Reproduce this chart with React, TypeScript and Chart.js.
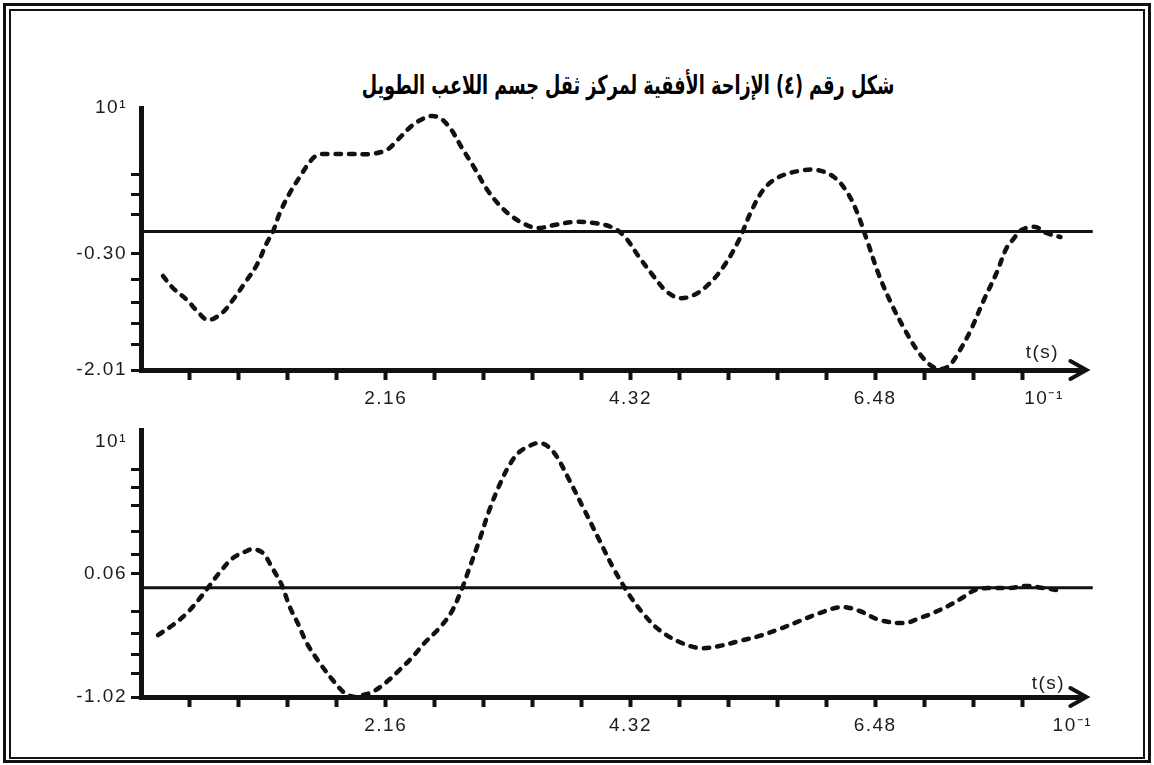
import React, { useEffect, useRef } from "react";
import { Chart, registerables } from "chart.js";

Chart.register(...registerables);

// Figure heading
const TITLE = "شكل رقم (٤) الإزاحة الأفقية لمركز ثقل جسم اللاعب الطويل";

// Upper panel: horizontal displacement vs time (time in 10^-1 s)
const TOP_T = [
  0.194, 0.282, 0.406, 0.503, 0.591, 0.714, 0.811, 0.916, 1.022, 1.11, 1.163, 1.225,
  1.313, 1.401, 1.489, 1.559, 1.665, 1.841, 2.018, 2.167, 2.264, 2.388, 2.502, 2.573,
  2.652, 2.74, 2.828, 2.943, 3.057, 3.163, 3.269, 3.383, 3.498, 3.648, 3.825, 4.001,
  4.15, 4.264, 4.396, 4.529, 4.634, 4.749, 4.881, 5.013, 5.145, 5.278, 5.383, 5.498,
  5.63, 5.807, 5.966, 6.116, 6.231, 6.319, 6.407, 6.513, 6.628, 6.743, 6.849, 6.954,
  7.042, 7.13, 7.218, 7.324, 7.439, 7.551, 7.639, 7.7, 7.771, 7.894, 7.991, 8.115,
];
const TOP_X = [
  -0.624, -0.801, -0.978, -1.155, -1.273, -1.17, -0.978, -0.728, -0.462, -0.138, 0.024, 0.304,
  0.599, 0.835, 1.056, 1.159, 1.174, 1.174, 1.174, 1.233, 1.38, 1.587, 1.705, 1.734,
  1.69, 1.528, 1.277, 0.968, 0.643, 0.422, 0.26, 0.142, 0.083, 0.127, 0.172, 0.157,
  0.098, -0.035, -0.344, -0.639, -0.845, -0.949, -0.904, -0.742, -0.477, -0.094, 0.319, 0.658,
  0.835, 0.923, 0.938, 0.835, 0.614, 0.319, -0.094, -0.61, -1.052, -1.42, -1.715, -1.922,
  -1.995, -1.951, -1.745, -1.42, -0.978, -0.58, -0.212, -0.079, 0.054, 0.098, 0.009, -0.05,
];

// Lower panel
const BOTTOM_T = [
  0.15, 0.282, 0.406, 0.521, 0.609, 0.697, 0.811, 0.934, 0.988, 1.076, 1.154, 1.242,
  1.313, 1.383, 1.463, 1.577, 1.692, 1.797, 1.885, 1.956, 2.044, 2.167, 2.282, 2.396,
  2.502, 2.634, 2.74, 2.828, 2.899, 2.987, 3.075, 3.164, 3.252, 3.34, 3.445, 3.516,
  3.586, 3.666, 3.78, 3.913, 4.045, 4.178, 4.31, 4.443, 4.575, 4.752, 4.929, 5.106,
  5.283, 5.459, 5.636, 5.812, 5.989, 6.183, 6.342, 6.519, 6.743, 6.875, 6.99, 7.123,
  7.246, 7.361, 7.493, 7.67, 7.82, 7.961, 8.138,
];
const BOTTOM_X = [
  -0.476, -0.388, -0.283, -0.151, -0.037, 0.077, 0.2, 0.262, 0.279, 0.244, 0.121, -0.037,
  -0.23, -0.37, -0.546, -0.721, -0.871, -0.985, -1.02, -1.002, -0.976, -0.888, -0.783, -0.669,
  -0.546, -0.414, -0.274, -0.081, 0.113, 0.358, 0.622, 0.841, 1.017, 1.131, 1.192, 1.21,
  1.184, 1.096, 0.885, 0.622, 0.358, 0.095, -0.124, -0.3, -0.432, -0.537, -0.59, -0.572,
  -0.528, -0.484, -0.423, -0.353, -0.283, -0.23, -0.265, -0.344, -0.37, -0.326, -0.283, -0.221,
  -0.151, -0.081, -0.063, -0.063, -0.045, -0.063, -0.089,
];

// Reference (zero) levels and where they end on the time axis
const TOP_LEVEL = 0.03;
const BOTTOM_LEVEL = -0.06;
const LEVEL_END_T = 8.4;

// Time axis
const X_MAX = 8.3;
const X_TICKS = [
  0.432, 0.864, 1.296, 1.728, 2.16, 2.592, 3.024, 3.456, 3.888,
  4.32, 4.752, 5.184, 5.616, 6.048, 6.48, 6.912, 7.344, 7.776,
];
const X_TICK_LABELS = [
  "", "", "", "", "2.16", "", "", "", "",
  "4.32", "", "", "", "", "6.48", "", "", "",
];
const X_UNIT_LABEL = "10⁻¹";
const TOP_X_UNIT_AT = 7.97;
const BOTTOM_X_UNIT_AT = 8.22;
const X_AXIS_NAME = "t(s)";

// Displacement axes
const Y_UNIT_LABEL = "10¹";
const TOP_Y_MIN = -2.01;
const TOP_Y_MAX = 1.852;
const TOP_Y_TICKS = [-2.01, -1.63, -1.32, -1.01, -0.68, -0.3, 0.28, 0.57, 0.87, 1.852];
const TOP_Y_LABELS = ["-2.01", "", "", "", "", "-0.30", "", "", "", Y_UNIT_LABEL];

const BOTTOM_Y_MIN = -1.02;
const BOTTOM_Y_MAX = 1.324;
const BOTTOM_Y_TICKS = [-1.02, -0.81, -0.65, -0.46, -0.27, 0.06, 0.23, 0.43, 0.66, 0.82, 0.98, 1.22];
const BOTTOM_Y_LABELS = ["-1.02", "", "", "", "", "0.06", "", "", "", "", "", Y_UNIT_LABEL];

const INK = "#111";
const TEXT = "#1c1c1c";
const LABEL_FONT = { family: "'Liberation Sans', Arial, sans-serif", size: 19 };
const LABEL_SPACING = "1.5px";

type Panel = {
  t: number[];
  v: number[];
  level: number;
  yMin: number;
  yMax: number;
  yTicks: number[];
  yLabels: string[];
  xUnitAt: number;
  padTop: number;
  padBottom: number;
  nameDx: number;
  nameDy: number;
};

// Wider letter spacing for all canvas text, arrow head at the end of the
// time axis and the axis name above it
const axisArrowPlugin = {
  id: "axisArrow",
  beforeDraw(chart: any) {
    chart.ctx.letterSpacing = LABEL_SPACING;
  },
  afterDraw(chart: any, _args: any, opts: any) {
    const { ctx, chartArea } = chart;
    const r = chartArea.right;
    const b = chartArea.bottom;
    ctx.save();
    ctx.strokeStyle = INK;
    ctx.lineWidth = 4;
    ctx.lineJoin = "miter";
    ctx.lineCap = "round";
    ctx.setLineDash([]);
    ctx.beginPath();
    ctx.moveTo(r - 11, b - 9);
    ctx.lineTo(r + 5, b);
    ctx.lineTo(r - 11, b + 9);
    ctx.stroke();
    ctx.fillStyle = TEXT;
    ctx.font = `${LABEL_FONT.size}px ${LABEL_FONT.family}`;
    ctx.textAlign = "center";
    ctx.textBaseline = "middle";
    ctx.fillText(X_AXIS_NAME, r + opts.dx, b + opts.dy);
    ctx.restore();
    ctx.letterSpacing = "0px";
  },
};

function buildConfig(p: Panel): any {
  const xTicks = [...X_TICKS, p.xUnitAt];
  const xLabels = [...X_TICK_LABELS, X_UNIT_LABEL];
  const hiddenX = xTicks.length - 1;
  const hiddenY = p.yTicks.length - 1;
  return {
    type: "line",
    data: {
      datasets: [
        {
          data: p.t.map((t, i) => ({ x: t, y: p.v[i] })),
          borderColor: INK,
          borderWidth: 4.5,
          borderDash: [5.5, 8],
          borderCapStyle: "round",
          borderJoinStyle: "round",
          tension: 0.35,
          pointRadius: 0,
          fill: false,
          clip: false,
        },
        {
          data: [
            { x: 0, y: p.level },
            { x: LEVEL_END_T, y: p.level },
          ],
          borderColor: INK,
          borderWidth: 3,
          pointRadius: 0,
          fill: false,
          clip: false,
        },
      ],
    },
    options: {
      responsive: false,
      animation: false,
      devicePixelRatio: 1,
      events: [],
      layout: { padding: { left: 41, right: 72.6, top: p.padTop, bottom: p.padBottom } },
      plugins: {
        legend: { display: false },
        tooltip: { enabled: false },
        axisArrow: { dx: p.nameDx, dy: p.nameDy },
      },
      scales: {
        x: {
          type: "linear",
          position: "bottom",
          min: 0,
          max: X_MAX,
          afterBuildTicks: (s: any) => {
            s.ticks = xTicks.map((v) => ({ value: v }));
          },
          afterFit: (s: any) => {
            s.height = 40;
            s.paddingLeft = 0;
            s.paddingRight = 0;
          },
          ticks: {
            autoSkip: false,
            maxRotation: 0,
            minRotation: 0,
            padding: 7,
            color: TEXT,
            font: LABEL_FONT,
            callback: (_v: any, i: number) => xLabels[i],
          },
          grid: {
            drawOnChartArea: false,
            drawTicks: true,
            tickLength: 10,
            tickWidth: 4,
            tickColor: (c: any) => (c.index === hiddenX ? "rgba(0,0,0,0)" : INK),
          },
          border: { display: true, width: 5, color: INK },
        },
        y: {
          type: "linear",
          position: "left",
          min: p.yMin,
          max: p.yMax,
          afterBuildTicks: (s: any) => {
            s.ticks = p.yTicks.map((v) => ({ value: v }));
          },
          afterFit: (s: any) => {
            s.width = 100;
            s.paddingTop = 0;
            s.paddingBottom = 0;
          },
          ticks: {
            autoSkip: false,
            padding: 4,
            color: TEXT,
            font: LABEL_FONT,
            callback: (_v: any, i: number) => p.yLabels[i],
          },
          grid: {
            drawOnChartArea: false,
            drawTicks: true,
            tickLength: 10,
            tickWidth: 3,
            tickColor: (c: any) => (c.index === hiddenY ? "rgba(0,0,0,0)" : INK),
          },
          border: { display: true, width: 5, color: INK },
        },
      },
    },
    plugins: [axisArrowPlugin],
  };
}

function PanelChart({ panel, top, height }: { panel: Panel; top: number; height: number }) {
  const ref = useRef<HTMLCanvasElement | null>(null);
  useEffect(() => {
    if (!ref.current) return;
    const chart = new Chart(ref.current, buildConfig(panel));
    return () => chart.destroy();
  }, [panel]);
  return (
    <canvas
      ref={ref}
      width={1154}
      height={height}
      style={{ position: "absolute", left: 0, top, width: 1154, height }}
    />
  );
}

const TOP_PANEL: Panel = {
  t: TOP_T,
  v: TOP_X,
  level: TOP_LEVEL,
  yMin: TOP_Y_MIN,
  yMax: TOP_Y_MAX,
  yTicks: TOP_Y_TICKS,
  yLabels: TOP_Y_LABELS,
  xUnitAt: TOP_X_UNIT_AT,
  padTop: 108,
  padBottom: 10,
  nameDx: -39,
  nameDy: -17,
};

const BOTTOM_PANEL: Panel = {
  t: BOTTOM_T,
  v: BOTTOM_X,
  level: BOTTOM_LEVEL,
  yMin: BOTTOM_Y_MIN,
  yMax: BOTTOM_Y_MAX,
  yTicks: BOTTOM_Y_TICKS,
  yLabels: BOTTOM_Y_LABELS,
  xUnitAt: BOTTOM_X_UNIT_AT,
  padTop: 10,
  padBottom: 28,
  nameDx: -33,
  nameDy: -13,
};

export default function App() {
  return (
    <div
      style={{
        position: "absolute",
        left: 0,
        top: 0,
        width: 1154,
        height: 765,
        background: "#fff",
        overflow: "hidden",
      }}
    >
      <div
        style={{
          position: "absolute",
          left: 3,
          top: 3,
          width: 1148,
          height: 760,
          border: `3px solid ${INK}`,
          boxSizing: "border-box",
        }}
      />
      <div
        style={{
          position: "absolute",
          left: 9,
          top: 9,
          width: 1136,
          height: 750,
          border: `2px solid ${INK}`,
          boxSizing: "border-box",
        }}
      />
      <div
        dir="rtl"
        style={{
          position: "absolute",
          left: 178,
          top: 68,
          width: 900,
          textAlign: "center",
          fontFamily: "'DejaVu Sans', sans-serif",
          fontWeight: "bold",
          fontSize: 26,
          lineHeight: "34px",
          color: "#000",
          whiteSpace: "nowrap",
          transform: "scaleX(0.68)",
          transformOrigin: "50% 50%",
        }}
      >
        {TITLE}
      </div>
      <PanelChart panel={TOP_PANEL} top={0} height={420} />
      <PanelChart panel={BOTTOM_PANEL} top={420} height={345} />
    </div>
  );
}
